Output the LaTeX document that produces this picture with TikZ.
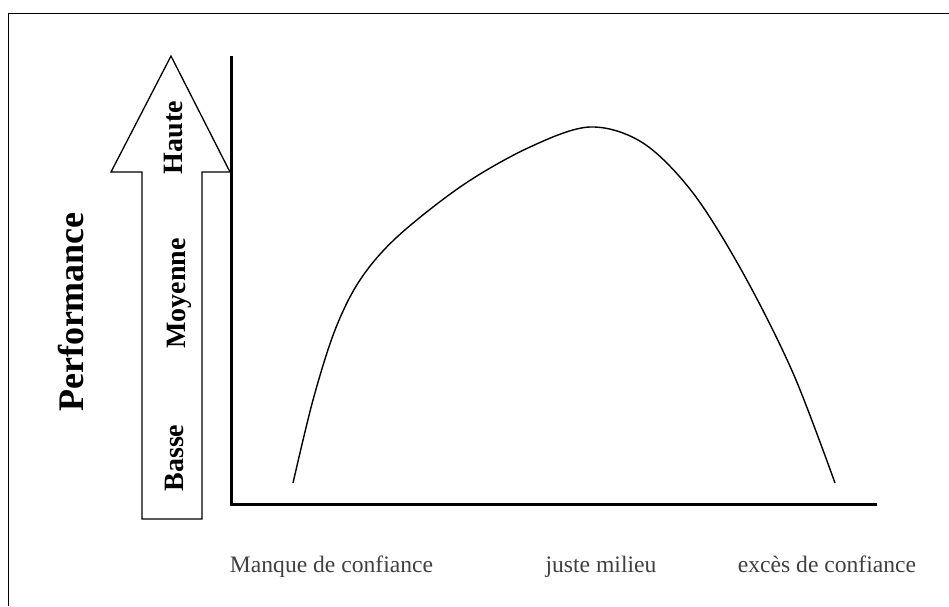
\documentclass[tikz,border=0pt]{standalone}
\usepackage{fontspec}
\setmainfont{Liberation Serif}
\begin{document}
\begin{tikzpicture}[x=1pt,y=-1pt,
  axisline/.style={line width=3pt, line join=miter, line cap=rect},
  arrowshape/.style={line width=1.3pt, line join=miter},
  curveline/.style={line width=1.4pt},
  vlabel/.style={rotate=90, anchor=base, inner sep=0pt, font=\fontsize{28}{30}\selectfont\bfseries},
  xlabel/.style={anchor=base, inner sep=0pt, text=black!75, font=\fontsize{23.6}{28}\selectfont}]
\useasboundingbox (0,0) rectangle (949,606);
% frame
\draw[line width=1pt] (8,606) -- (8,13) -- (949,13);
% big arrow
\coordinate (aBL) at (142,519);
\coordinate (aBR) at (202,519);
\coordinate (aTip) at (171,56);
\draw[arrowshape] (aBL) -- (142,172) -- (111,172) -- (aTip) -- (230,172) -- (202,172) -- (aBR) -- cycle;
% axes
\coordinate (O) at (231,504);
\coordinate (Ytop) at (231,57);
\coordinate (Xend) at (875,504);
\draw[axisline] (Ytop) -- (O) -- (Xend);
% curve
\draw[curveline] plot[smooth, tension=0.55] coordinates {
 (293,483) (313,400) (335,330) (360,280) (397,237) (463,185) (530,147)
 (590,127) (643,143) (693,193) (743,273) (793,373) (835,483)};
% labels
\node[vlabel, font=\fontsize{36}{40}\selectfont\bfseries] (perf) at (83,312) {Performance};
\node[vlabel] (haute) at (182,137.5) {Haute};
\node[vlabel] (moy) at (185,293.5) {Moyenne};
\node[vlabel] (basse) at (183,458) {Basse};
\node[xlabel] (manque) at (331.5,572) {Manque de confiance};
\node[xlabel] (juste) at (601,572) {juste milieu};
\node[xlabel] (exces) at (827,572) {excès de confiance};
\end{tikzpicture}
\end{document}
